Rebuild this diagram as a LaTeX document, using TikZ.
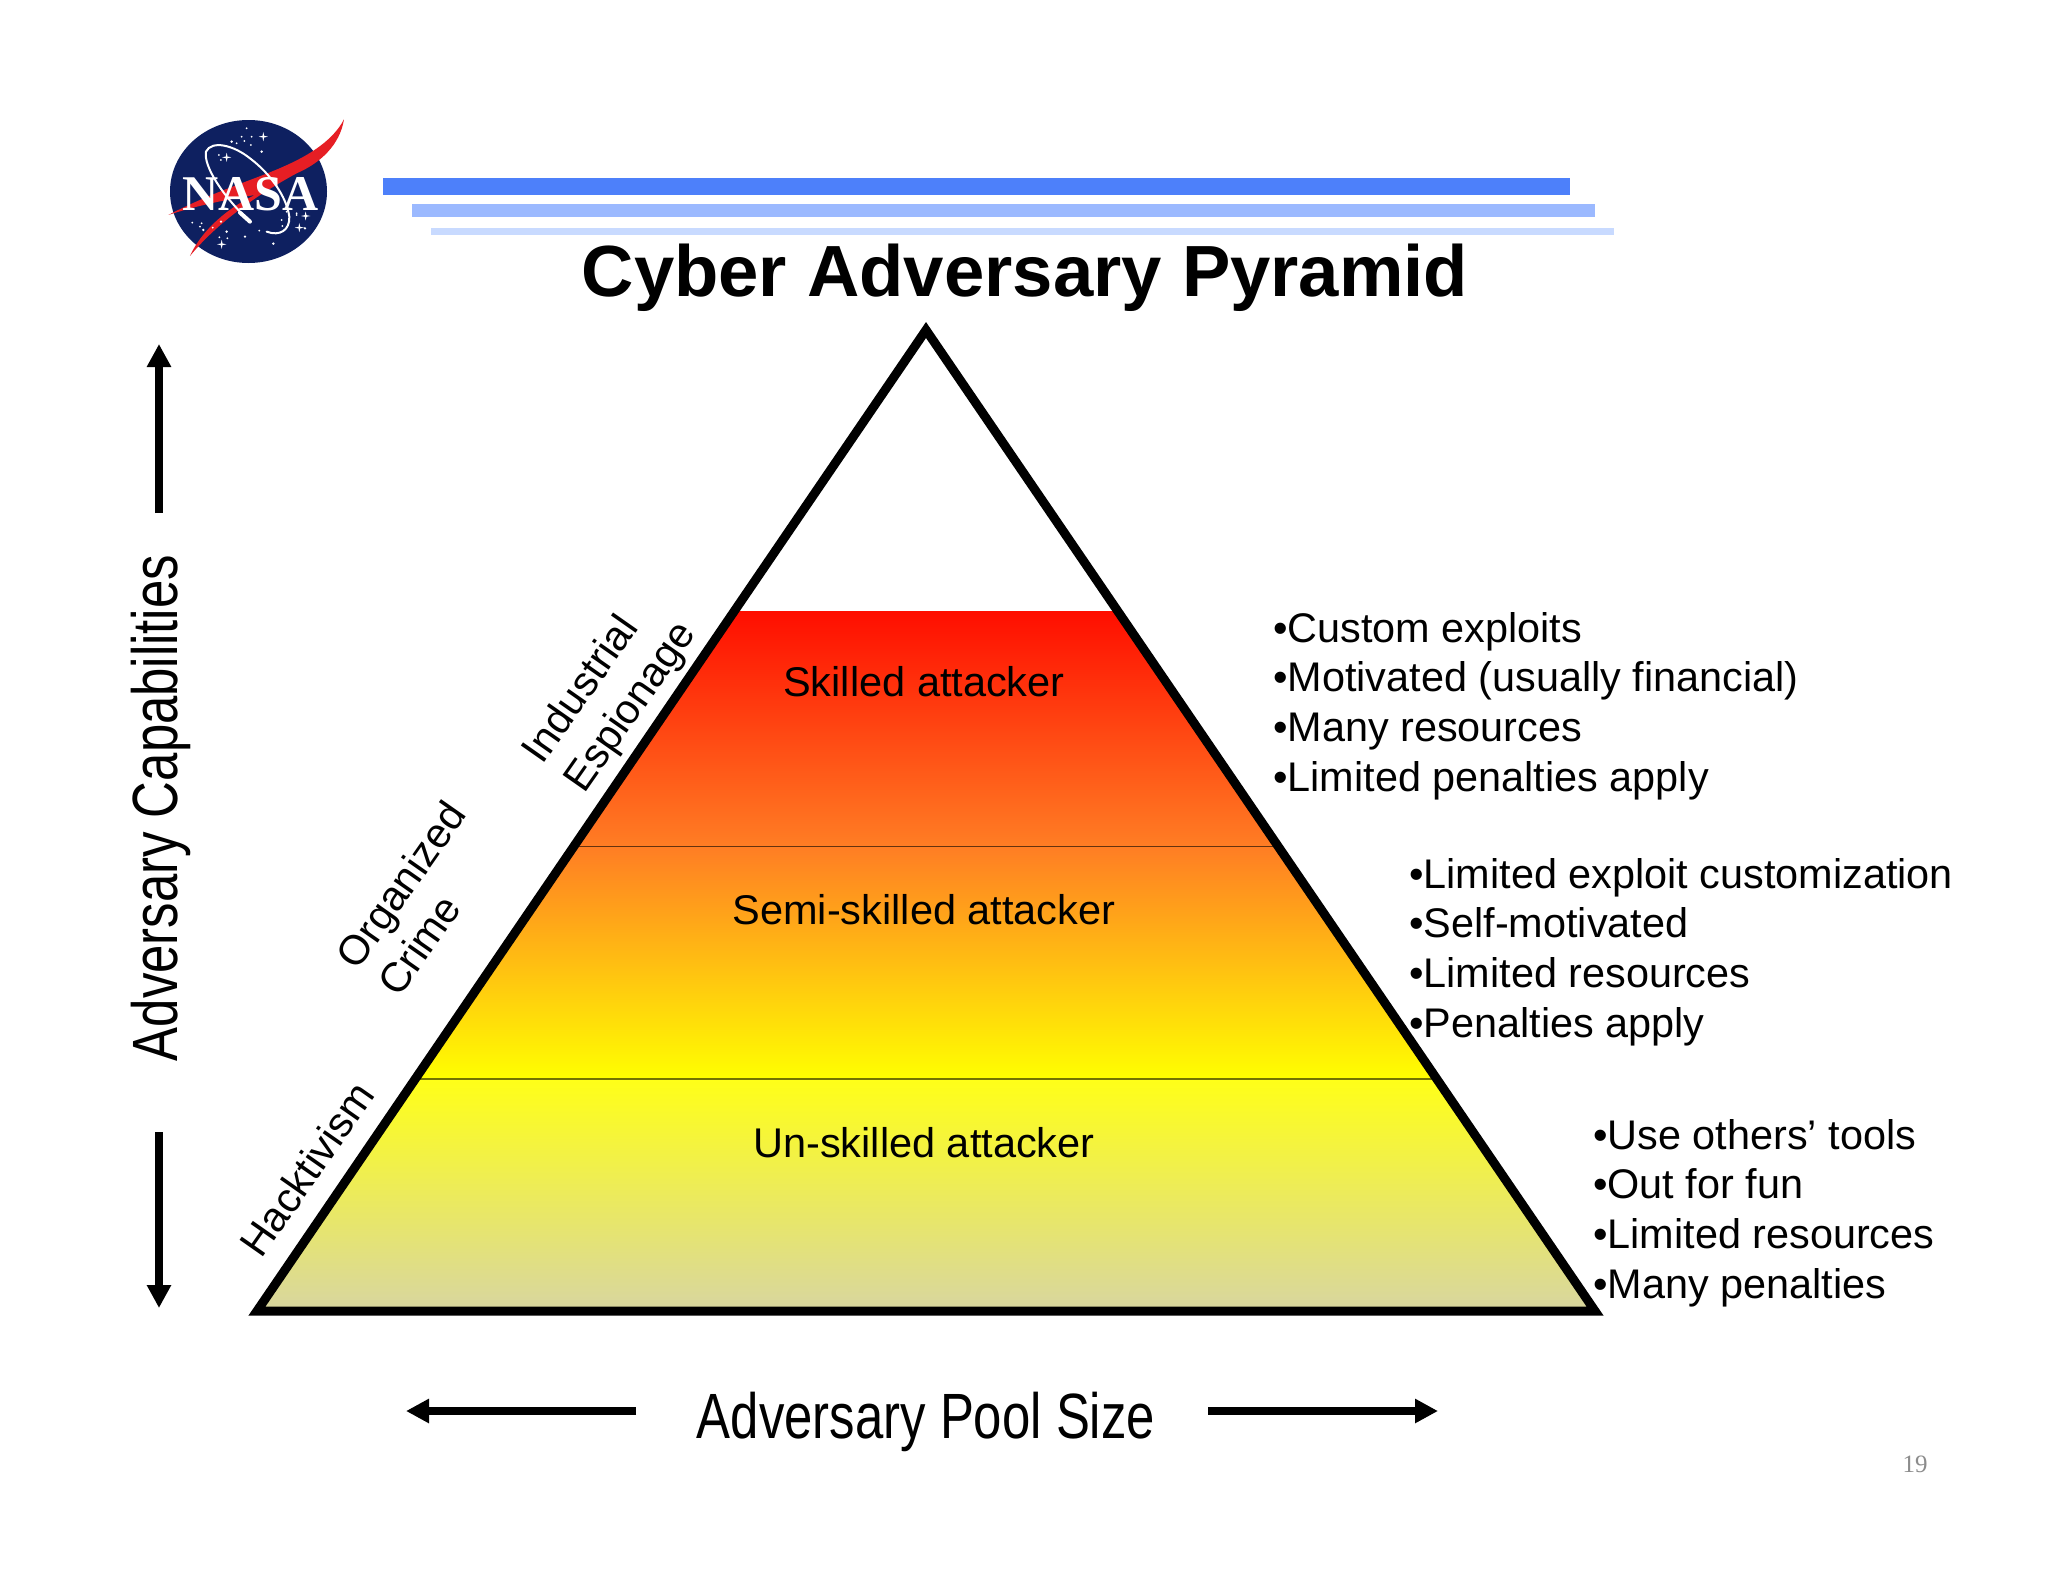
\documentclass[tikz,border=0pt]{standalone}
\usepackage{fontspec}
\setmainfont{Liberation Sans}
\newfontfamily\narrowfont[FakeStretch=0.795]{Liberation Sans}
\newfontfamily\logofont{Liberation Serif}
\usetikzlibrary{arrows.meta}
\definecolor{barA}{RGB}{77,128,250}
\definecolor{barB}{RGB}{155,185,255}
\definecolor{barC}{RGB}{200,218,255}
\definecolor{nasaBlue}{RGB}{14,32,96}
\definecolor{nasaRed}{RGB}{230,30,36}
\definecolor{bandRed}{RGB}{255,14,0}
\definecolor{bandRedMid}{RGB}{255,88,22}
\definecolor{bandOrange}{RGB}{255,125,36}
\definecolor{bandOrangeMid}{RGB}{255,182,28}
\definecolor{bandYellow}{RGB}{255,255,0}
\definecolor{bandYellowTop}{RGB}{255,255,24}
\definecolor{bandYellowMid}{RGB}{244,241,108}
\definecolor{bandTan}{RGB}{216,214,160}
\begin{document}
\begin{tikzpicture}[x=1pt,y=-1pt,
  body/.style={font=\fontsize{41.4}{49.6}\selectfont,align=left,anchor=west,inner sep=0pt},
  band/.style={font=\fontsize{41.5}{48}\selectfont,inner sep=0pt},
  slant/.style={font=\fontsize{41.5}{48}\selectfont,inner sep=0pt,rotate=55},
  axislabel/.style={font=\narrowfont\fontsize{64}{64}\selectfont,inner sep=0pt},
  axisarrow/.style={line width=8pt,-{Triangle[width=23pt,length=23pt]}},
  starb/.style={fill=white,draw=none}]
\useasboundingbox (0,0) rectangle (2048,1582);
\fill[white] (0,0) rectangle (2048,1582);

% header bars
\fill[barA] (383,178) rectangle (1570,195);
\fill[barB] (412,204) rectangle (1595,217);
\fill[barC] (431,228) rectangle (1614,235);

% logo
\fill[nasaBlue] (248.5,191.5) ellipse [x radius=78.5,y radius=71.5];
\begin{scope}[shift={(140,90)},x=0.3333pt,y=-0.3333pt]
  \fill[nasaRed] (85,375) .. controls (220,305) and (340,270) .. (430,230)
     .. controls (510,195) and (580,150) .. (612,88)
     .. controls (600,165) and (540,220) .. (470,250)
     .. controls (350,315) and (230,400) .. (150,498)
     .. controls (190,410) and (280,345) .. (345,315)
     .. controls (250,330) and (160,350) .. (85,375) -- cycle;
  \foreach \px/\py/\ps in {320/115/3,305/140/3,335/140/3,275/155/4,290/160/3,313/153/3,333/165/3,365/185/4,237/195/3,243/210/3,157/398/3,185/400/3,190/420/4,180/410/3,218/413/3,243/395/4,260/425/4,262/445/3,238/442/3,315/440/4,358/422/3,400/461/4,425/390/3,427/408/3,440/365/3,470/370/3,495/415/4,470/375/3}
    \fill[starb] (\px,\py) circle [radius=\ps];
  \foreach \px/\py in {370/140,260/202,245/463,497/378,478/413}
    \fill[starb] (\px-14,\py) -- (\px,\py-3) -- (\px+14,\py) -- (\px,\py+3) -- cycle
                 (\px-3,\py) -- (\px,\py-14) -- (\px+3,\py) -- (\px,\py+14) -- cycle;
\end{scope}
\begin{scope}[shift={(140,90)},x=0.3333pt,y=-0.3333pt]
  \draw[white,line width=2pt,line cap=round] (380,425) .. controls (420,440) and (450,420) .. (448,380)
     .. controls (440,320) and (390,250) .. (330,205)
     .. controls (280,165) and (215,150) .. (198,185)
     .. controls (190,230) and (250,320) .. (330,395);
  \draw[white,line width=4pt,line cap=round] (300,368) -- (330,395);
\end{scope}
\node[inner sep=0pt,text=white,font=\logofont\bfseries\fontsize{50}{50}\selectfont] (logotext) at (250.5,194) {NASA};

% title
\node[inner sep=0pt,font=\bfseries\fontsize{72.5}{72.5}\selectfont] (title) at (1025,278) {Cyber Adversary Pyramid};

% pyramid
\coordinate (apex) at (926,330);
\coordinate (bl) at (257,1311);
\coordinate (br) at (1595,1311);
\coordinate (t1l) at (734,611);
\coordinate (t1r) at (1118,611);
\coordinate (t2l) at (574,846);
\coordinate (t2r) at (1278,846);
\coordinate (t3l) at (415,1079);
\coordinate (t3r) at (1437,1079);
\shade[top color=bandRed,middle color=bandRedMid,bottom color=bandOrange] (t1l) -- (t1r) -- (t2r) -- (t2l) -- cycle;
\shade[top color=bandOrange,middle color=bandOrangeMid,bottom color=bandYellow] (t2l) -- (t2r) -- (t3r) -- (t3l) -- cycle;
\shade[top color=bandYellowTop,middle color=bandYellowMid,bottom color=bandTan] (t3l) -- (t3r) -- (br) -- (bl) -- cycle;
\draw[black!60!bandOrange,line width=1pt] (t2l) -- (t2r);
\draw[black!55!bandYellow,line width=1.2pt] (t3l) -- (t3r);
\draw[line width=9pt,line join=miter,miter limit=10] (apex) -- (br) -- (bl) -- cycle;

\node[band] (skilled) at (924,682) {Skilled attacker};
\node[band] (semi) at (924,910) {Semi-skilled attacker};
\node[band] (unskilled) at (924,1143) {Un-skilled attacker};

% side labels
\node[slant] (ind) at (579,688) {Industrial};
\node[slant] (esp) at (632,708) {Espionage};
\node[slant] (org) at (404,887) {Organized};
\node[slant] (cri) at (419,945) {Crime};
\node[slant] (hack) at (307,1169) {Hacktivism};

% bullets
\node[body] (b1) at (1273,706) {•Custom exploits\\•Motivated (usually financial)\\•Many resources\\•Limited penalties apply};
\node[body] (b2) at (1409,952) {•Limited exploit customization\\•Self-motivated\\•Limited resources\\•Penalties apply};
\node[body] (b3) at (1593,1213) {•Use others’ tools\\•Out for fun\\•Limited resources\\•Many penalties};

% axes
\node[axislabel,rotate=90] (cap) at (161,808) {Adversary Capabilities};
\node[axislabel] (pool) at (926,1422) {Adversary Pool Size};
\coordinate (capTop) at (159,344);
\coordinate (capTopS) at (159,513);
\coordinate (capBot) at (159,1308);
\coordinate (capBotS) at (159,1132);
\coordinate (poolL) at (406,1411);
\coordinate (poolLS) at (636,1411);
\coordinate (poolR) at (1438,1411);
\coordinate (poolRS) at (1208,1411);
\draw[axisarrow] (capTopS) -- (capTop);
\draw[axisarrow] (capBotS) -- (capBot);
\draw[axisarrow] (poolLS) -- (poolL);
\draw[axisarrow] (poolRS) -- (poolR);

% page number
\node[inner sep=0pt,text=black!45,font=\logofont\fontsize{25}{25}\selectfont] (page) at (1915,1464) {19};
\end{tikzpicture}
\end{document}
